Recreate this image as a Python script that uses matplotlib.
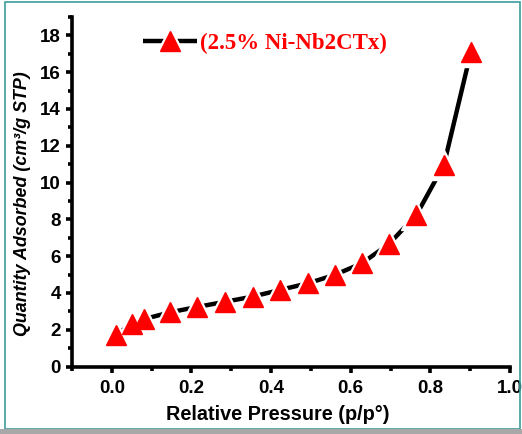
import matplotlib
matplotlib.use("Agg")
import matplotlib.pyplot as plt
from matplotlib.lines import Line2D
from matplotlib.legend_handler import HandlerTuple
from matplotlib.patches import Rectangle
from matplotlib.ticker import MultipleLocator

# Data
rel_pressure = [0.01, 0.05, 0.08, 0.147, 0.215, 0.285, 0.354, 0.422, 0.492,
                0.56, 0.628, 0.696, 0.765, 0.834, 0.902]
quantity = [1.71, 2.31, 2.57, 2.95, 3.24, 3.52, 3.80, 4.16, 4.52,
            4.98, 5.61, 6.66, 8.24, 10.96, 17.12]
series_label = "(2.5% Ni-Nb2CTx)"
x_label = "Relative Pressure (p/p°)"
y_label = "Quantity Adsorbed (cm³/g STP)"

W, H = 522, 434
fig = plt.figure(figsize=(W / 100, H / 100), dpi=100)
fig.patch.set_facecolor("white")

# frame decoration
fig.patches.append(Rectangle((5 / W, 1 - 429 / H), 515 / W, 427 / H,
                             transform=fig.transFigure, fill=False,
                             edgecolor="#3f9c9c", lw=1.2, zorder=0))
fig.patches.append(Rectangle((0, 0), 1, 5 / H, transform=fig.transFigure,
                             facecolor="#a8a8a8", edgecolor="none", zorder=0))

left, right, bottom, top = 72, 510, 366.5, 17
ax = fig.add_axes([left / W, 1 - bottom / H, (right - left) / W, (bottom - top) / H])

line, = ax.plot(rel_pressure, quantity, color="black", lw=3.2, zorder=2,
                solid_capstyle="butt")
gap, = ax.plot(rel_pressure, quantity, linestyle="none", marker="^", ms=21,
               mfc="white", mec="white", zorder=3)
mk, = ax.plot(rel_pressure, quantity, linestyle="none", marker="^", ms=14,
              mfc="red", mec="red", zorder=4)

ax.set_xlim(-0.1, 1.0)
ax.set_ylim(0, 19)
ax.xaxis.set_major_locator(MultipleLocator(0.2))
ax.xaxis.set_minor_locator(MultipleLocator(0.1))
ax.yaxis.set_major_locator(MultipleLocator(2))
ax.yaxis.set_minor_locator(MultipleLocator(1))

for s in ["top", "right"]:
    ax.spines[s].set_visible(False)
for s in ["left", "bottom"]:
    ax.spines[s].set_linewidth(2.6)

ax.tick_params(which="major", direction="out", length=4.5, width=2.6,
               labelsize=13.5)
ax.tick_params(which="minor", direction="out", length=3, width=2.6)
ax.tick_params(axis="x", which="major", pad=5.5)
ax.tick_params(axis="y", which="major", pad=3.5)
ax.set_xticks([0.0, 0.2, 0.4, 0.6, 0.8, 1.0])
ax.set_xticklabels(["0.0", "0.2", "0.4", "0.6", "0.8", "1.0"])
for lab in ax.get_xticklabels() + ax.get_yticklabels():
    lab.set_fontfamily("Liberation Sans")
    lab.set_fontweight("bold")

ax.set_xlabel(x_label, fontfamily="Liberation Sans", fontweight="bold",
              fontsize=14.3)
ax.xaxis.set_label_coords((277.5 - left) / (right - left), -(415 - bottom) / (bottom - top))
ax.xaxis.label.set_va("center")
ax.set_ylabel(y_label, fontfamily="Liberation Sans", fontweight="bold",
              fontstyle="italic", fontsize=12.9)
ax.yaxis.set_label_coords((23 - left) / (right - left), (bottom - 204) / (bottom - top))
ax.yaxis.label.set_va("center")

h_line = Line2D([], [], color="black", lw=3.2, solid_capstyle="butt")
h_gap = Line2D([], [], linestyle="none", marker="^", ms=21, mfc="white", mec="white")
h_mk = Line2D([], [], linestyle="none", marker="^", ms=14, mfc="red", mec="red")
leg = ax.legend([(h_line, h_gap, h_mk)], [series_label],
                handler_map={tuple: HandlerTuple(ndivide=1, pad=0)},
                loc="center left", bbox_to_anchor=((143 - left) / (right - left),
                                                   (bottom - 43) / (bottom - top)),
                frameon=False, borderpad=0, borderaxespad=0,
                handlelength=2.36, handletextpad=0.13,
                prop={"family": "Liberation Serif", "weight": "bold", "size": 16.5})
for t in leg.get_texts():
    t.set_color("red")

fig.savefig("out.png", dpi=100)
